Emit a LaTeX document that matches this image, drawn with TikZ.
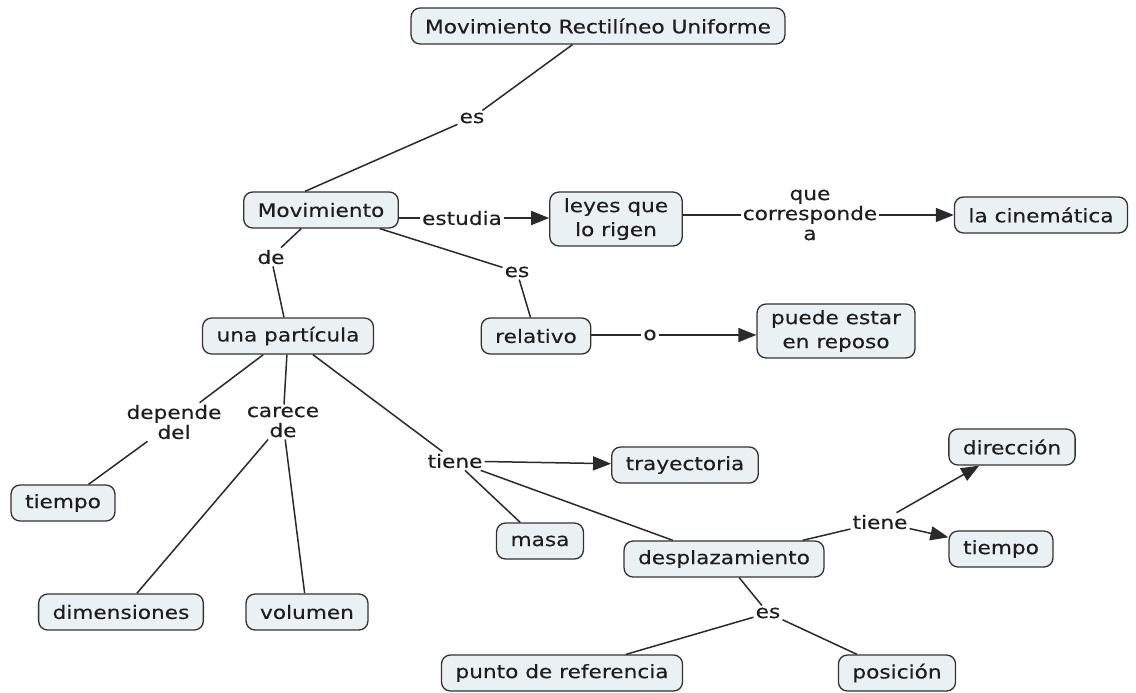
\documentclass[tikz,border=0pt]{standalone}
\usepackage{fontspec}
\setmainfont{DejaVu Sans}[FakeStretch=1.17,FakeBold=0.3]
\usetikzlibrary{arrows.meta,calc}
\definecolor{boxfill}{HTML}{EAF1F4}
\definecolor{boxline}{HTML}{333333}
\definecolor{wire}{HTML}{2A2A2A}
\definecolor{ink}{HTML}{1E1E1E}
\tikzset{
  concept/.style={draw=boxline, line width=1.3pt, fill=boxfill, rounded corners=9pt,
    inner xsep=14pt, inner ysep=6pt, minimum height=36pt, align=center,
    text=ink, font=\fontsize{18.5}{24}\selectfont},
  link/.style={inner sep=2pt, align=center, text=ink, font=\fontsize{18.5}{20}\selectfont},
  wire/.style={draw=wire, line width=1.5pt},
  arrow/.style={wire, -{Triangle[length=18pt,width=14pt]}}
}
\begin{document}
\begin{tikzpicture}[x=1pt,y=-1pt]
\useasboundingbox[fill=white] (0,0) rectangle (1136,693);

% concepts
\node[concept] (mru) at (598,26) {Movimiento Rectilíneo Uniforme};
\node[concept] (mov) at (321,210) {Movimiento};
\node[concept] (ley) at (616,219) {leyes que\\lo rigen};
\node[concept] (cin) at (1041,215) {la cinemática};
\node[concept] (par) at (288,336) {una partícula};
\node[concept] (rel) at (536,336) {relativo};
\node[concept] (pue) at (836,331) {puede estar\\en reposo};
\node[concept] (tiA) at (63,503) {tiempo};
\node[concept] (tra) at (685,465) {trayectoria};
\node[concept] (dir) at (1012,447) {dirección};
\node[concept] (mas) at (540,541) {masa};
\node[concept] (des) at (724,559) {desplazamiento};
\node[concept] (tiB) at (1001,549) {tiempo};
\node[concept] (dim) at (121,612) {dimensiones};
\node[concept] (vol) at (307,612) {volumen};
\node[concept] (pun) at (562,673) {punto de referencia};
\node[concept] (pos) at (897,673) {posición};

% linking phrases
\node[link] (esA) at (472,118) {es};
\node[link] (est) at (462,218) {estudia};
\node[link] (qca) at (810,215) {que\\corresponde\\a};
\node[link] (de)  at (271,257) {de};
\node[link] (esB) at (517,272) {es};
\node[link] (o)   at (650,335) {o};
\node[link] (dep) at (174,422) {depende\\del};
\node[link] (car) at (283,422) {carece\\de};
\node[link] (tnA) at (455,461) {tiene};
\node[link] (tnB) at (880,522) {tiene};
\node[link] (esC) at (768,613) {es};

% connections
\draw[wire] (mru) -- (esA);
\draw[wire] (esA) -- ($(mov.north)+(-16,0)$);
\draw[wire] (est.west -| mov.east) -- (est.west);
\draw[arrow] (est.east) -- (est.east -| ley.west);
\draw[wire] (qca.west -| ley.east) -- (qca.west);
\draw[arrow] (qca.east) -- (qca.east -| cin.west);
\draw[wire] (mov) -- (de);
\draw[wire] (de) -- (par);
\draw[wire] (mov) -- (esB);
\draw[wire] (esB) -- (rel);
\draw[wire] (o.west -| rel.east) -- (o.west);
\draw[arrow] (o.east) -- (o.east -| pue.west);
\draw[wire] (par) -- (dep);
\draw[wire] (dep) -- (tiA);
\draw[wire] (par) -- (car);
\draw[wire] (car) -- (dim);
\draw[wire] (car) -- (vol);
\draw[wire] (par) -- (tnA);
\draw[arrow] (tnA) -- (tra);
\draw[wire] (tnA) -- (mas);
\draw[wire] (tnA) -- (des);
\draw[wire] (des) -- (tnB);
\draw[arrow] (tnB) -- (dir);
\draw[arrow] (tnB) -- (tiB);
\draw[wire] (des) -- (esC);
\draw[wire] (esC) -- (pun);
\draw[wire] (esC) -- (pos);
\end{tikzpicture}
\end{document}
